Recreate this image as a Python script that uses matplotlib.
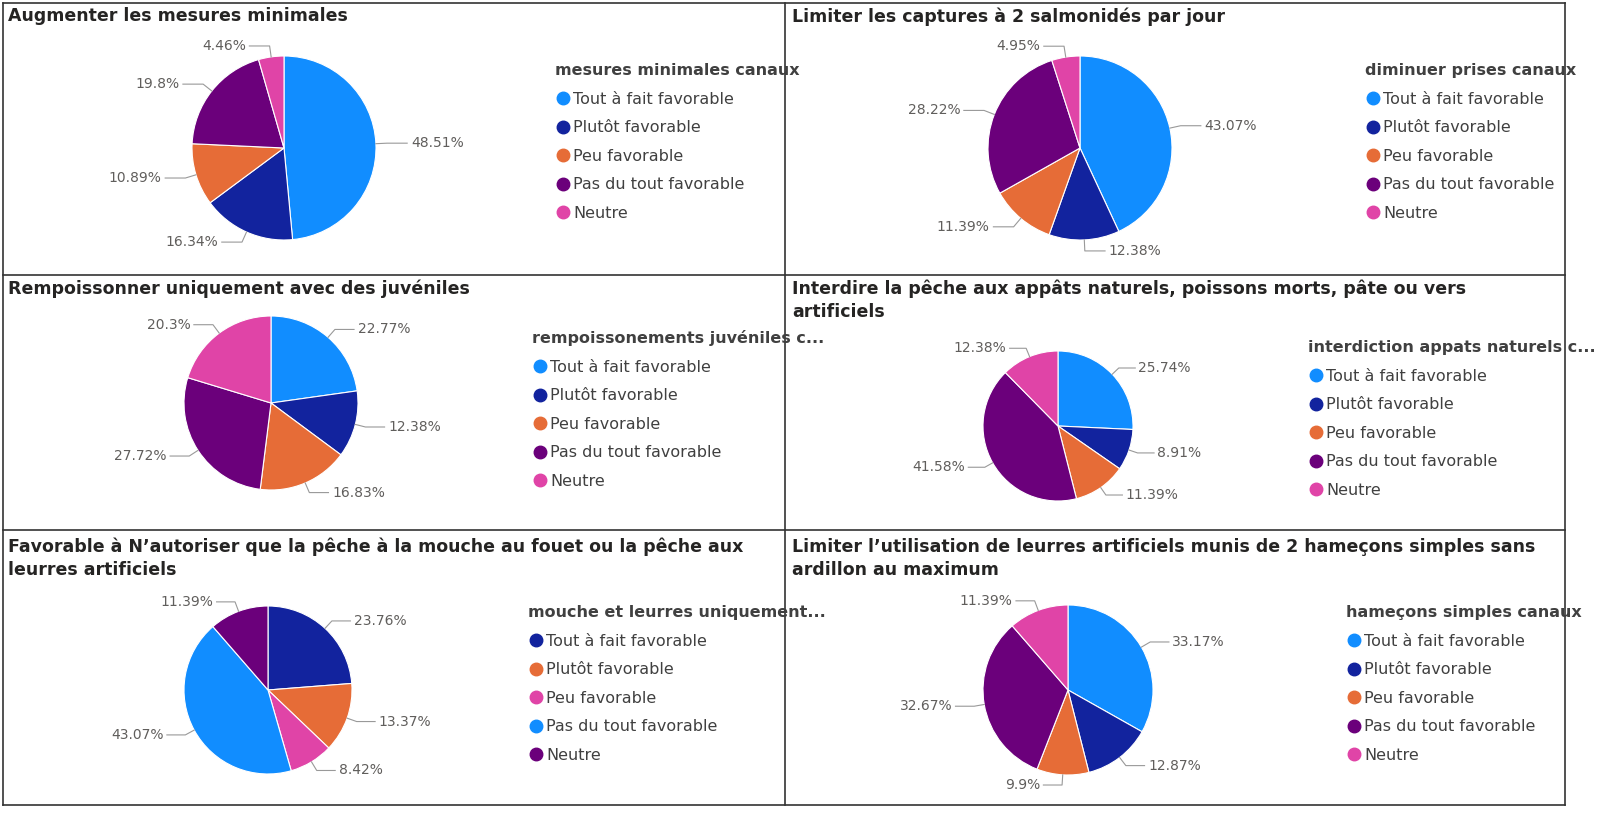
import matplotlib.pyplot as plt
from matplotlib.lines import Line2D
import numpy as np

W, H = 1605, 826

titles = [
    "Augmenter les mesures minimales",
    "Limiter les captures à 2 salmonidés par jour",
    "Rempoissonner uniquement avec des juvéniles",
    "Interdire la pêche aux appâts naturels, poissons morts, pâte ou vers\nartificiels",
    "Favorable à N\u2019autoriser que la pêche à la mouche au fouet ou la pêche aux\nleurres artificiels",
    "Limiter l\u2019utilisation de leurres artificiels munis de 2 hameçons simples sans\nardillon au maximum",
]
legend_titles = [
    "mesures minimales canaux",
    "diminuer prises canaux",
    "rempoissonements juvéniles c...",
    "interdiction appats naturels c...",
    "mouche et leurres uniquement...",
    "hameçons simples canaux",
]
categories = ["Tout à fait favorable", "Plutôt favorable", "Peu favorable",
              "Pas du tout favorable", "Neutre"]
values = [
    [48.51, 16.34, 10.89, 19.8, 4.46],
    [43.07, 12.38, 11.39, 28.22, 4.95],
    [22.77, 12.38, 16.83, 27.72, 20.3],
    [25.74, 8.91, 11.39, 41.58, 12.38],
    [23.76, 13.37, 8.42, 43.07, 11.39],
    [33.17, 12.87, 9.9, 32.67, 11.39],
]
labels = [
    ["48.51%", "16.34%", "10.89%", "19.8%", "4.46%"],
    ["43.07%", "12.38%", "11.39%", "28.22%", "4.95%"],
    ["22.77%", "12.38%", "16.83%", "27.72%", "20.3%"],
    ["25.74%", "8.91%", "11.39%", "41.58%", "12.38%"],
    ["23.76%", "13.37%", "8.42%", "43.07%", "11.39%"],
    ["33.17%", "12.87%", "9.9%", "32.67%", "11.39%"],
]
LB, DB, OR, PU, PK = "#118DFF", "#12239E", "#E66C37", "#6B007B", "#E044A7"
palettes = [[LB, DB, OR, PU, PK]] * 4 + [[DB, OR, PK, LB, PU], [LB, DB, OR, PU, PK]]

# layout in pixels
title_pos = [(8, 7), (792, 7), (8, 280), (792, 280), (8, 538), (792, 538)]
pie_geo = [(284, 148, 92), (1080, 148, 92), (271, 403, 87),
           (1058, 426, 75), (268, 690, 84), (1068, 690, 85)]
leg_pos = [(555, 63), (1365, 63), (532, 330), (1308, 340), (528, 605), (1346, 605)]

fig = plt.figure(figsize=(W / 100, H / 100), dpi=100)
fig.patch.set_facecolor("white")

# panel borders
for y in [3, 275, 530, 805]:
    fig.add_artist(Line2D([3 / W, 1565 / W], [1 - y / H] * 2, color="#333333", lw=1.2))
for x in [3, 785, 1565]:
    fig.add_artist(Line2D([x / W] * 2, [1 - 3 / H, 1 - 805 / H], color="#333333", lw=1.2))

for i in range(6):
    tx, ty = title_pos[i]
    fig.text(tx / W, 1 - ty / H, titles[i], ha="left", va="top", fontsize=12.5,
             fontweight="bold", color="#252423", linespacing=1.35)

    cx, cy, r = pie_geo[i]
    ax = fig.add_axes([(cx - r) / W, 1 - (cy + r) / H, 2 * r / W, 2 * r / H])
    wedges, _ = ax.pie(values[i], colors=palettes[i], startangle=90, counterclock=False,
                       radius=1, wedgeprops=dict(edgecolor="white", linewidth=0.8))
    ax.set_xlim(-1, 1)
    ax.set_ylim(-1, 1)
    ax.set_aspect("equal")
    ax.axis("off")
    for w, lab in zip(wedges, labels[i]):
        ang = np.deg2rad((w.theta1 + w.theta2) / 2)
        x0, y0 = np.cos(ang), np.sin(ang)
        x1, y1 = 1.12 * x0, 1.12 * y0
        side = 1 if x0 >= 0 else -1
        x2 = x1 + side * 0.22
        ax.plot([x0, x1, x2], [y0, y1, y1], color="#999999", lw=0.8, clip_on=False)
        ax.text(x2 + side * 0.04, y1, lab, ha="left" if side > 0 else "right",
                va="center", fontsize=10, color="#605E5C", clip_on=False)

    lx, ly = leg_pos[i]
    handles = [Line2D([], [], marker="o", ls="", color=c, markersize=9) for c in palettes[i]]
    leg = fig.legend(handles, categories, title=legend_titles[i], loc="upper left",
                     bbox_to_anchor=(lx / W, 1 - ly / H), frameon=False, fontsize=11.5,
                     title_fontproperties={"weight": "bold", "size": 11.5},
                     handletextpad=0.15, handlelength=1.0, labelspacing=0.85,
                     borderpad=0, borderaxespad=0)
    leg._legend_box.align = "left"
    leg.get_title().set_color("#404040")
    for t in leg.get_texts():
        t.set_color("#404040")

fig.savefig("out.png", dpi=100)
